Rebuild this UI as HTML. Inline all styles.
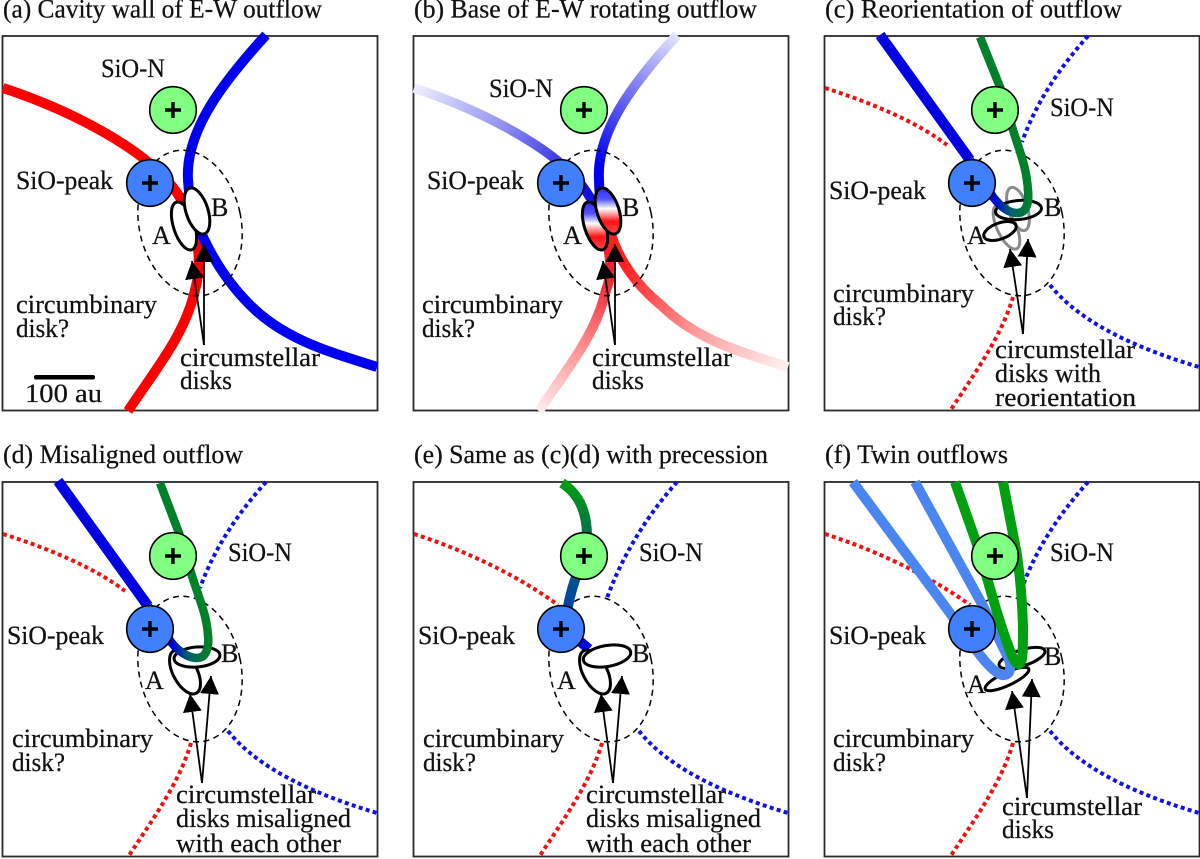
<!DOCTYPE html>
<html><head><meta charset="utf-8"><style>
html,body{margin:0;padding:0;background:#fff}
svg{display:block}
text{font-family:"Liberation Serif",serif;font-size:26px;fill:#111;stroke:#111;stroke-width:.25}
.f{fill:none;stroke:#2a2a2a;stroke-width:1.8}
.d{fill:none;stroke:#000;stroke-width:1.5;stroke-dasharray:6 4.5}
.k{fill:none;stroke:#000;stroke-width:3}
.w{fill:#fff;stroke:#000;stroke-width:3}
.g{fill:none;stroke:#8a8a8a;stroke-width:3}
.a{stroke:#000;stroke-width:1.8;marker-end:url(#ah)}
.r,.b{fill:none;stroke-width:4;stroke-dasharray:4 3.3}
.r{stroke:#f01010}.b{stroke:#1010e8}
.n{fill:none;stroke-width:8.5}
</style></head><body>
<svg xmlns="http://www.w3.org/2000/svg" width="1200" height="859" viewBox="0 0 1200 859">
<defs>
<marker id="ah" markerUnits="userSpaceOnUse" markerWidth="24" markerHeight="24" refX="18" refY="10" orient="auto"><path d="M0,0.5L18,10L0,19.5z" fill="#000"/></marker>
<linearGradient id="gUL" gradientUnits="userSpaceOnUse" x1="3" y1="88" x2="170" y2="185"><stop offset="0" stop-color="#eeeeff"/><stop offset=".5" stop-color="#9090f0"/><stop offset="1" stop-color="#1010e0"/></linearGradient>
<linearGradient id="gUR" gradientUnits="userSpaceOnUse" x1="266" y1="35" x2="190" y2="165"><stop offset="0" stop-color="#e4e4ff"/><stop offset=".5" stop-color="#7070f0"/><stop offset="1" stop-color="#0000f0"/></linearGradient>
<linearGradient id="gLL" gradientUnits="userSpaceOnUse" x1="128" y1="411" x2="196" y2="275"><stop offset="0" stop-color="#ffecec"/><stop offset=".5" stop-color="#ff9090"/><stop offset="1" stop-color="#f02030"/></linearGradient>
<linearGradient id="gLR" gradientUnits="userSpaceOnUse" x1="377" y1="367" x2="215" y2="265"><stop offset="0" stop-color="#fff2f2"/><stop offset=".5" stop-color="#ff9c9c"/><stop offset="1" stop-color="#ff2020"/></linearGradient>
<linearGradient id="dA" gradientUnits="userSpaceOnUse" x1="184" y1="201" x2="184" y2="251" gradientTransform="rotate(18 184 226)"><stop offset="0" stop-color="#3030f0"/><stop offset=".25" stop-color="#5050ff"/><stop offset=".45" stop-color="#ffffff"/><stop offset=".72" stop-color="#ff1010"/><stop offset="1" stop-color="#ff5050"/></linearGradient>
<linearGradient id="dB" gradientUnits="userSpaceOnUse" x1="197" y1="187" x2="197" y2="235" gradientTransform="rotate(18 197 211)"><stop offset="0" stop-color="#3030f0"/><stop offset=".25" stop-color="#5050ff"/><stop offset=".45" stop-color="#ffffff"/><stop offset=".72" stop-color="#ff1010"/><stop offset="1" stop-color="#ff5050"/></linearGradient>
<linearGradient id="bg" gradientUnits="userSpaceOnUse" x1="172" y1="195" x2="208" y2="195"><stop offset="0" stop-color="#0000d8"/><stop offset=".45" stop-color="#00606a"/><stop offset="1" stop-color="#008028"/></linearGradient>
<linearGradient id="eg" gradientUnits="userSpaceOnUse" x1="152" y1="36" x2="158" y2="165"><stop offset="0" stop-color="#00a010"/><stop offset=".4" stop-color="#087048"/><stop offset="1" stop-color="#0040b0"/></linearGradient>
<g id="cc">
<circle cx="173" cy="110" r="23.3" fill="#80ff80" stroke="#000" stroke-width="1.6"/>
<path d="M165,110H181M173,102V118" stroke="#000" stroke-width="3.4"/>
<circle cx="150" cy="183" r="23.3" fill="#4080ff" stroke="#000" stroke-width="1.6"/>
<path d="M142,183H158M150,175V191" stroke="#000" stroke-width="3.4"/>
</g>
<g id="dot">
<path class="r" d="M3,88C50,103 95,122 125,145"/>
<path class="r" d="M191,297C180,335 155,370 128,411"/>
<path class="b" d="M266,36C240,65 215,100 200,142"/>
<path class="b" d="M228,285C260,325 320,350 377,367"/>
</g>
<ellipse id="de" class="d" cx="190" cy="223" rx="51" ry="73.6" transform="rotate(-12 190 223)"/>
<rect id="fr" class="f" x="2.5" y="36" width="375" height="374.5"/>
</defs>

<!-- (a) -->
<g>
<text x="3" y="17.5" textLength="319" lengthAdjust="spacingAndGlyphs">(a) Cavity wall of E-W outflow</text>
<use href="#fr"/>
<path d="M3,88C70,110 135,145 165,178C195,210 205,255 195,290C185,335 155,370 128,411" fill="none" stroke="#ff0000" stroke-width="10"/>
<path d="M266,35C225,80 185,130 188,180C190,225 220,275 250,305C285,340 330,352 377,367" fill="none" stroke="#0000f0" stroke-width="10"/>
<use href="#de"/>
<ellipse class="w" cx="184" cy="226" rx="10.5" ry="25" transform="rotate(-18 184 226)"/>
<ellipse class="w" cx="197" cy="211" rx="11" ry="24" transform="rotate(-18 197 211)"/>
<use href="#cc"/>
<line class="a" x1="204" y1="345" x2="192" y2="261"/><line class="a" x1="204" y1="345" x2="204" y2="244"/>
<rect x="34" y="375" width="61" height="4.5" rx="2"/>
<text x="101" y="77" textLength="64" lengthAdjust="spacingAndGlyphs">SiO-N</text>
<text x="16" y="189" textLength="97" lengthAdjust="spacingAndGlyphs">SiO-peak</text>
<text x="152" y="244">A</text><text x="211" y="216">B</text>
<text x="16" y="313" textLength="141" lengthAdjust="spacingAndGlyphs">circumbinary</text>
<text x="16" y="337" textLength="53" lengthAdjust="spacingAndGlyphs">disk?</text>
<text x="180" y="366" textLength="140" lengthAdjust="spacingAndGlyphs">circumstellar</text>
<text x="180" y="389" textLength="52" lengthAdjust="spacingAndGlyphs">disks</text>
<text x="25" y="402" textLength="77" lengthAdjust="spacingAndGlyphs">100 au</text>
</g>

<!-- (b) -->
<g transform="translate(411 0)">
<use href="#fr"/>
<path d="M3,88C70,110 135,145 165,178C172,186 178,195 184,206" fill="none" stroke="url(#gUL)" stroke-width="9.5"/>
<path d="M266,35C225,80 185,130 188,180C188,190 189,196 190,204" fill="none" stroke="url(#gUR)" stroke-width="10"/>
<path d="M194,236C202,262 200,278 195,290C185,335 155,370 128,411" fill="none" stroke="url(#gLL)" stroke-width="10"/>
<path d="M199,230C206,258 225,285 250,305C285,340 330,352 377,367" fill="none" stroke="url(#gLR)" stroke-width="10"/>
<use href="#de"/>
<ellipse cx="184" cy="226" rx="10.5" ry="25" fill="url(#dA)" stroke="#000" stroke-width="3" transform="rotate(-18 184 226)"/>
<ellipse cx="197" cy="211" rx="11" ry="24" fill="url(#dB)" stroke="#000" stroke-width="3" transform="rotate(-18 197 211)"/>
<use href="#cc"/>
<line class="a" x1="204" y1="345" x2="192" y2="261"/><line class="a" x1="204" y1="345" x2="204" y2="244"/>
<text x="3" y="17.5" textLength="343" lengthAdjust="spacingAndGlyphs">(b) Base of E-W rotating outflow</text>
<text x="78" y="97" textLength="64" lengthAdjust="spacingAndGlyphs">SiO-N</text>
<text x="16" y="189" textLength="97" lengthAdjust="spacingAndGlyphs">SiO-peak</text>
<text x="152" y="244">A</text><text x="211" y="216">B</text>
<text x="11" y="313" textLength="141" lengthAdjust="spacingAndGlyphs">circumbinary</text>
<text x="11" y="337" textLength="53" lengthAdjust="spacingAndGlyphs">disk?</text>
<text x="181" y="366" textLength="140" lengthAdjust="spacingAndGlyphs">circumstellar</text>
<text x="181" y="389" textLength="52" lengthAdjust="spacingAndGlyphs">disks</text>
</g>

<!-- (c) -->
<g transform="translate(822 0)">
<use href="#fr"/>
<use href="#dot"/>
<use href="#de"/>
<ellipse class="g" cx="184.5" cy="227" rx="9.5" ry="24" transform="rotate(-25 184.5 227)"/>
<ellipse class="g" cx="196" cy="209" rx="9.5" ry="22.5" transform="rotate(-18 196 209)"/>
<ellipse class="k" cx="178" cy="231" rx="17" ry="8" transform="rotate(-20 178 231)"/>
<ellipse class="k" cx="196.5" cy="210" rx="23" ry="9.5" transform="rotate(-5 196.5 210)"/>
<path d="M58,35L148,160" fill="none" stroke="#0000e0" stroke-width="10.5"/>
<path class="n" d="M148,160L171,197C178,206 186,213 195,213C206,213 207,200 206,190" stroke="url(#bg)"/>
<path class="n" d="M206,191C205,170 199,155 191,130L178,87L158,37" stroke="#008028"/>
<use href="#cc"/>
<line class="a" x1="201" y1="334" x2="188" y2="249"/><line class="a" x1="201" y1="334" x2="206" y2="239"/>
<text x="3" y="17.5" textLength="297" lengthAdjust="spacingAndGlyphs">(c) Reorientation of outflow</text>
<text x="228" y="116" textLength="64" lengthAdjust="spacingAndGlyphs">SiO-N</text>
<text x="7" y="199" textLength="97" lengthAdjust="spacingAndGlyphs">SiO-peak</text>
<text x="145" y="244">A</text><text x="222" y="216">B</text>
<text x="11" y="302" textLength="141" lengthAdjust="spacingAndGlyphs">circumbinary</text>
<text x="11" y="325" textLength="53" lengthAdjust="spacingAndGlyphs">disk?</text>
<text x="173" y="358" textLength="140" lengthAdjust="spacingAndGlyphs">circumstellar</text>
<text x="173" y="382" textLength="106" lengthAdjust="spacingAndGlyphs">disks with</text>
<text x="173" y="406" textLength="141" lengthAdjust="spacingAndGlyphs">reorientation</text>
</g>

<!-- (d) -->
<g transform="translate(0 446)">
<use href="#fr"/>
<use href="#dot"/>
<use href="#de"/>
<ellipse class="w" cx="185" cy="226" rx="12" ry="24" transform="rotate(-28 185 226)"/>
<ellipse class="w" cx="197" cy="211" rx="23" ry="10" transform="rotate(-5 197 211)"/>
<path d="M58,35L148,160" fill="none" stroke="#0000e0" stroke-width="10.5"/>
<path class="n" d="M148,160L171,196C178,205 188,212 197,212C208,212 209,198 208,189" stroke="url(#bg)"/>
<path class="n" d="M208,190C207,170 200,155 192,130L179,87L160,37" stroke="#008028"/>
<use href="#cc"/>
<line class="a" x1="202" y1="337" x2="190" y2="248"/><line class="a" x1="202" y1="337" x2="211" y2="230"/>
<text x="3" y="17" textLength="240" lengthAdjust="spacingAndGlyphs">(d) Misaligned outflow</text>
<text x="228" y="115" textLength="64" lengthAdjust="spacingAndGlyphs">SiO-N</text>
<text x="7" y="198" textLength="97" lengthAdjust="spacingAndGlyphs">SiO-peak</text>
<text x="145" y="243">A</text><text x="221" y="216">B</text>
<text x="12" y="301" textLength="141" lengthAdjust="spacingAndGlyphs">circumbinary</text>
<text x="12" y="325" textLength="53" lengthAdjust="spacingAndGlyphs">disk?</text>
<text x="176" y="357" textLength="140" lengthAdjust="spacingAndGlyphs">circumstellar</text>
<text x="176" y="381" textLength="175" lengthAdjust="spacingAndGlyphs">disks misaligned</text>
<text x="176" y="406" textLength="165" lengthAdjust="spacingAndGlyphs">with each other</text>
</g>

<!-- (e) -->
<g transform="translate(411 446)">
<use href="#fr"/>
<path class="r" d="M3,88C50,103 105,128 147,159"/>
<path class="r" d="M191,297C180,335 155,370 128,411"/>
<path class="b" d="M266,36C240,65 213,105 196,152"/>
<path class="b" d="M228,285C260,325 320,350 377,367"/>
<use href="#de"/>
<path d="M160,188L178,203" stroke="#0000e0" stroke-width="10" fill="none"/>
<ellipse class="w" cx="184" cy="226" rx="12" ry="24" transform="rotate(-28 184 226)"/>
<ellipse class="w" cx="196" cy="210" rx="24" ry="10.5" transform="rotate(-10 196 210)"/>
<path d="M151,37C165,46 176,62 176,90L172,110L164,134C160,145 158,155 156,165" fill="none" stroke="url(#eg)" stroke-width="10"/>
<use href="#cc"/>
<line class="a" x1="202" y1="337" x2="190" y2="248"/><line class="a" x1="202" y1="337" x2="211" y2="230"/>
<text x="3" y="17" textLength="354" lengthAdjust="spacingAndGlyphs">(e) Same as (c)(d) with precession</text>
<text x="228" y="115" textLength="64" lengthAdjust="spacingAndGlyphs">SiO-N</text>
<text x="7" y="198" textLength="97" lengthAdjust="spacingAndGlyphs">SiO-peak</text>
<text x="146" y="243">A</text><text x="221" y="216">B</text>
<text x="12" y="301" textLength="141" lengthAdjust="spacingAndGlyphs">circumbinary</text>
<text x="12" y="325" textLength="53" lengthAdjust="spacingAndGlyphs">disk?</text>
<text x="175" y="357" textLength="140" lengthAdjust="spacingAndGlyphs">circumstellar</text>
<text x="175" y="381" textLength="175" lengthAdjust="spacingAndGlyphs">disks misaligned</text>
<text x="175" y="406" textLength="165" lengthAdjust="spacingAndGlyphs">with each other</text>
</g>

<!-- (f) -->
<g transform="translate(822 446)">
<use href="#fr"/>
<path class="r" d="M3,88C50,103 105,128 148,159"/>
<path class="r" d="M191,297C180,335 155,370 128,411"/>
<path class="b" d="M266,36C240,65 215,100 200,142"/>
<path class="b" d="M228,285C260,325 320,350 377,367"/>
<use href="#de"/>
<ellipse class="k" cx="185" cy="233" rx="24" ry="6.5" transform="rotate(-25 185 233)"/>
<ellipse class="k" cx="200" cy="212" rx="24" ry="8" transform="rotate(-18 200 212)"/>
<path d="M31,36L128,167C148,196 168,226 180,229C189,230 190,221 186,211C176,192 170,178 161,160L93,36" fill="none" stroke="#4a86f0" stroke-width="10"/>
<path d="M133,36L158,107C170,150 178,178 186,199C190,211 194,219 197,218C201,217 201,205 201,180C200,150 198,130 195,109L181,36" fill="none" stroke="#00a010" stroke-width="10"/>
<use href="#cc"/>
<line class="a" x1="205" y1="352" x2="190" y2="245"/><line class="a" x1="205" y1="352" x2="210" y2="233"/>
<text x="3" y="17" textLength="183" lengthAdjust="spacingAndGlyphs">(f) Twin outflows</text>
<text x="228" y="115" textLength="64" lengthAdjust="spacingAndGlyphs">SiO-N</text>
<text x="7" y="198" textLength="97" lengthAdjust="spacingAndGlyphs">SiO-peak</text>
<text x="145" y="247">A</text><text x="222" y="219">B</text>
<text x="11" y="301" textLength="141" lengthAdjust="spacingAndGlyphs">circumbinary</text>
<text x="11" y="325" textLength="53" lengthAdjust="spacingAndGlyphs">disk?</text>
<text x="180" y="369" textLength="140" lengthAdjust="spacingAndGlyphs">circumstellar</text>
<text x="180" y="392" textLength="52" lengthAdjust="spacingAndGlyphs">disks</text>
</g>
</svg>
</body></html>
